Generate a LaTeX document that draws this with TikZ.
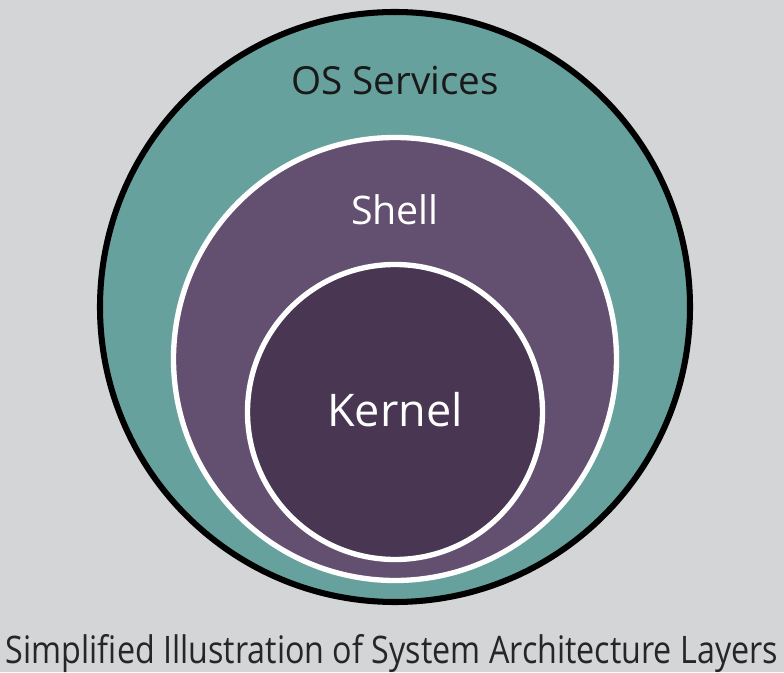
\documentclass[tikz,border=0pt]{standalone}
\usepackage{fontspec}
\setmainfont{Open Sans}
\newfontfamily\captionfont[FakeStretch=0.85]{Open Sans}
\usepackage{xcolor}
\definecolor{bgray}{HTML}{D4D5D7}
\definecolor{teal}{HTML}{67A19E}
\definecolor{shellpurple}{HTML}{634F70}
\definecolor{kernelpurple}{HTML}{483653}

\begin{document}
\begin{tikzpicture}[x=0.025cm,y=0.025cm]
  \fill[bgray] (0,0) rectangle (784,672);
  \useasboundingbox (0,0) rectangle (784,672);
  % layers, outside in
  \filldraw[fill=teal,draw=black,line width=4.3pt] (395,365) circle (295);
  \filldraw[fill=shellpurple,draw=white,line width=3.8pt] (395,313) circle (221.5);
  \filldraw[fill=kernelpurple,draw=white,line width=3.8pt] (395,260) circle (147.5);
  \node[anchor=base,font=\fontsize{27.5}{33}\selectfont,text=black!90] (services) at (395,577) {OS Services};
  \node[anchor=base,font=\fontsize{28}{34}\selectfont,text=white] (shell) at (395,447) {Shell};
  \node[anchor=base,font=\fontsize{32}{38}\selectfont,text=white] (kernel) at (395,245) {Kernel};
  \node[anchor=base,font=\captionfont\fontsize{27}{32}\selectfont,text=black!85] (caption) at (392,9)
    {Simplified Illustration of System Architecture Layers};
\end{tikzpicture}
\end{document}
